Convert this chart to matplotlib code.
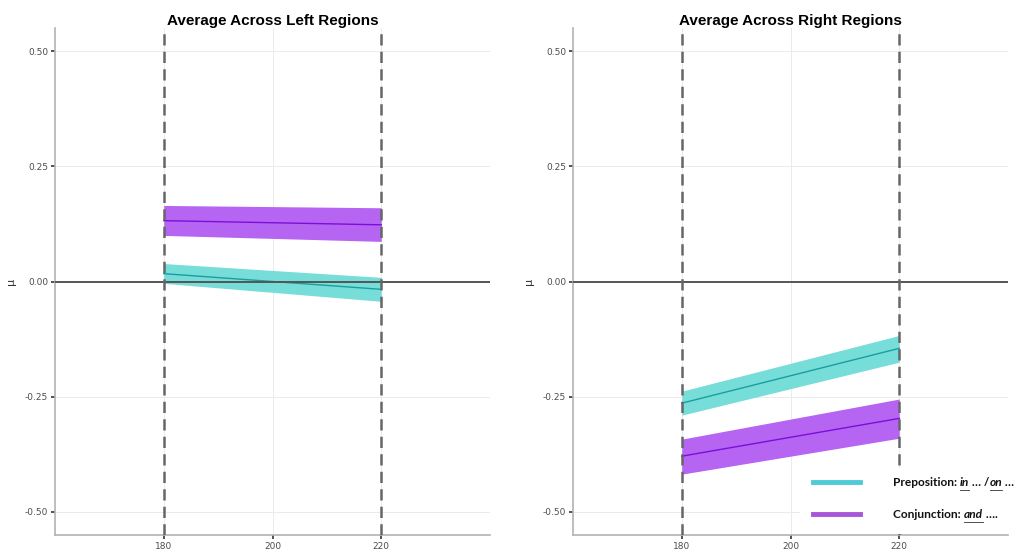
import matplotlib
matplotlib.use("Agg")
import matplotlib.pyplot as plt
from matplotlib.lines import Line2D
from matplotlib.patches import Rectangle

# data: fitted mean and band at x=180 and x=220
x = [180, 220]
panels = ["Average Across Left Regions", "Average Across Right Regions"]

left_prep_mean = [0.017, -0.017]
left_prep_lo = [-0.004, -0.043]
left_prep_hi = [0.039, 0.009]
left_conj_mean = [0.132, 0.123]
left_conj_lo = [0.100, 0.087]
left_conj_hi = [0.165, 0.160]

right_prep_mean = [-0.264, -0.145]
right_prep_lo = [-0.290, -0.175]
right_prep_hi = [-0.238, -0.117]
right_conj_mean = [-0.379, -0.297]
right_conj_lo = [-0.418, -0.340]
right_conj_hi = [-0.342, -0.255]

yticks = [-0.5, -0.25, 0.0, 0.25, 0.5]
ytick_labels = ["-0.50", "-0.25", "0.00", "0.25", "0.50"]
xticks = [180, 200, 220]

prep_band, prep_line = "#76ddd9", "#1a9e9e"
conj_band, conj_line = "#b565f2", "#7d0ddc"

fig = plt.figure(figsize=(10.21, 5.52), dpi=100)
W, H = 1021, 552
ax_l = fig.add_axes([55 / W, 1 - 535 / H, 435 / W, 507 / H])
ax_r = fig.add_axes([573 / W, 1 - 535 / H, 435 / W, 507 / H])

data = [
    (left_prep_mean, left_prep_lo, left_prep_hi, left_conj_mean, left_conj_lo, left_conj_hi),
    (right_prep_mean, right_prep_lo, right_prep_hi, right_conj_mean, right_conj_lo, right_conj_hi),
]

for ax, title, d in zip([ax_l, ax_r], panels, data):
    pm, plo, phi, cm, clo, chi = d
    ax.set_xlim(160, 240)
    ax.set_ylim(-0.55, 0.55)
    ax.set_yticks(yticks)
    ax.set_yticklabels(ytick_labels)
    ax.set_xticks(xticks)
    ax.grid(True, color="#ebebeb", linewidth=0.7)
    ax.set_axisbelow(True)
    for s in ["top", "right"]:
        ax.spines[s].set_visible(False)
    for s in ["left", "bottom"]:
        ax.spines[s].set_color("#b3b3b3")
        ax.spines[s].set_linewidth(1.2)
    ax.tick_params(axis="both", labelsize=6.5, colors="#333333", length=3, width=1.2, pad=2)
    ax.tick_params(axis="both", labelcolor="#4d4d4d")

    ax.fill_between(x, clo, chi, color=conj_band, linewidth=0, zorder=2)
    ax.plot(x, cm, color=conj_line, linewidth=1.0, zorder=3)
    ax.fill_between(x, plo, phi, color=prep_band, linewidth=0, zorder=2)
    ax.plot(x, pm, color=prep_line, linewidth=1.0, zorder=3)

    ax.axhline(0, color="#555555", linewidth=1.4, zorder=4)
    for xv in [180, 220]:
        ax.axvline(xv, color="#666666", linewidth=1.8, linestyle=(0, (4.5, 2.5)), zorder=5)

    ax.set_title(title, fontsize=11, fontweight="bold", family="Liberation Sans", pad=2)
    ax.set_ylabel("μ", fontsize=8, color="#333333", labelpad=6)

# legend pasted over the lower right corner
fig.patches.append(Rectangle((800 / W, 1 - 534 / H), 221 / W, 66 / H,
                             transform=fig.transFigure, facecolor="white",
                             edgecolor="none", zorder=10))
fig.lines.append(Line2D([813 / W, 860 / W], [1 - 482 / H, 1 - 482 / H],
                        transform=fig.transFigure, color="#4dcbd6", linewidth=3.5, zorder=11))
fig.lines.append(Line2D([813 / W, 860 / W], [1 - 514 / H, 1 - 514 / H],
                        transform=fig.transFigure, color="#a855d8", linewidth=3.5, zorder=11))

pieces_prep = [("Preposition: ", "normal", False), ("in", "italic", True), (" … /", "normal", False),
               ("on", "italic", True), (" …", "normal", False)]
pieces_conj = [("Conjunction: ", "normal", False), ("and", "italic", True), (" ….", "normal", False)]

fig.canvas.draw()
renderer = fig.canvas.get_renderer()
for pieces, ypx in [(pieces_prep, 483), (pieces_conj, 515)]:
    xpx = 893
    for txt, style, underline in pieces:
        t = fig.text(xpx / W, 1 - ypx / H, txt, fontsize=8.6, fontweight="bold", fontstyle=style,
                     family="Lato", va="center", ha="left", zorder=12, color="#111111")
        bb = t.get_window_extent(renderer)
        if underline:
            uy = 1 - (ypx + 7) / H
            fig.lines.append(Line2D([bb.x0 / W, bb.x1 / W], [uy, uy], transform=fig.transFigure,
                                    color="#333333", linewidth=0.6, zorder=12))
        xpx = bb.x1

fig.savefig("out.png", dpi=100)
